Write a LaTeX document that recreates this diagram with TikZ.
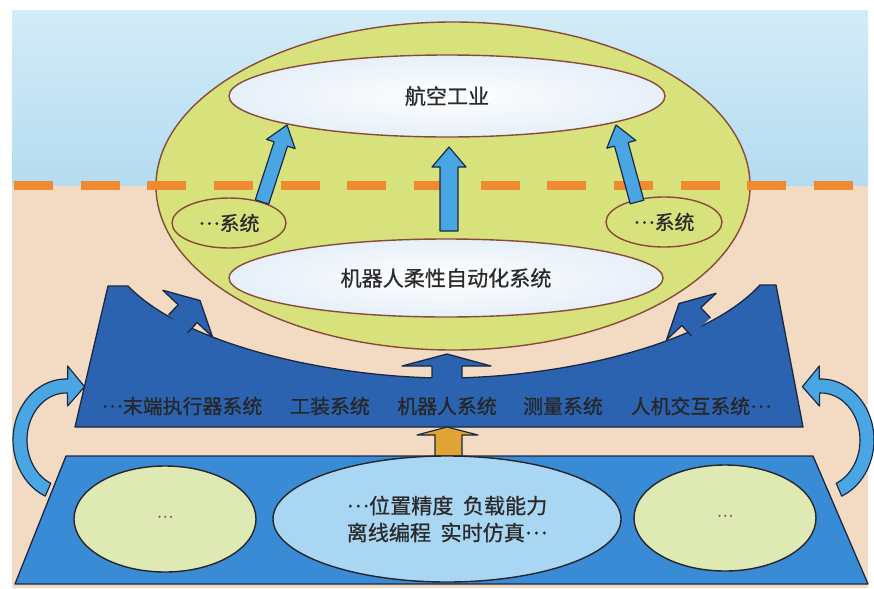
\documentclass[tikz,border=0pt]{standalone}
\usepackage{fontspec}
\newfontfamily\cjk[FakeBold=0.7]{Noto Sans CJK SC}
\usetikzlibrary{calc,shapes.geometric}
\definecolor{sky}{HTML}{B4DBF1}
\definecolor{skytop}{HTML}{D3ECF7}
\definecolor{sand}{HTML}{F2DAC3}
\definecolor{lime}{HTML}{D7E27C}
\definecolor{rim}{HTML}{8A4A3A}
\definecolor{navy}{HTML}{2B63B0}
\definecolor{midblue}{HTML}{3A8BD6}
\definecolor{paleblue}{HTML}{A9D6F2}
\definecolor{palegreen}{HTML}{DEE9B4}
\definecolor{arrowblue}{HTML}{4AA5E3}
\definecolor{dashorange}{HTML}{F08A30}
\definecolor{gold}{HTML}{E0A435}
\definecolor{ink}{HTML}{2A2A2A}
\definecolor{edge}{HTML}{1B2740}
\definecolor{whiteedge}{HTML}{E6EFF8}
\newcommand\middots{\raisebox{0.3em}{…}}
\begin{document}
\begin{tikzpicture}[x=0.03cm,y=-0.03cm,
  ell/.style={ellipse, draw=rim, line width=1.2pt, inner sep=0pt},
  whiteell/.style={ell, inner color=white, outer color=whiteedge},
  big/.style={font=\cjk\fontsize{18}{22}\selectfont, text=ink},
  mid/.style={font=\cjk\fontsize{17}{20}\selectfont, text=ink},
  plat/.style={font=\cjk\fontsize{17}{20}\selectfont, text=black!85, inner sep=0pt},
  darkline/.style={draw=edge, line width=1.1pt, line join=round},
  botell/.style={ellipse, draw=black!85, line width=1.2pt, inner sep=0pt},
  barrow/.style={fill=arrowblue, draw=edge, line width=1pt, line join=round},
  dashline/.style={draw=dashorange, line width=0.27cm, dash pattern=on 1.17cm off 0.83cm}]
\useasboundingbox (0,0) rectangle (874,588);
% background
\shade[top color=skytop, bottom color=sky] (12,10) rectangle (868,186);
\fill[sand] (12,186) rectangle (868,588);

% big green ellipse
\node[ell, fill=lime, minimum width=17.82cm, minimum height=9.84cm] (globe) at (453,186) {};
% dashed boundary
\coordinate (dl) at (14,185);
\coordinate (dr) at (853,185);
\draw[dashline] (dl) -- (dr);

% inner ellipses
\node[whiteell, minimum width=13.08cm, minimum height=2.46cm, big] (aero) at (447,96) {航空工业};
\node[whiteell, minimum width=13.02cm, minimum height=2.34cm, big] (robot) at (446,278) {机器人柔性自动化系统};
\node[ell, minimum width=3.42cm, minimum height=1.5cm, mid] (subL) at (229,223) {\middots 系统};
\node[ell, minimum width=3.48cm, minimum height=1.5cm, mid] (subR) at (664,222) {\middots 系统};

% light blue arrows
\filldraw[barrow] (255.3,199.8) -- (274.1,141.8) -- (266.5,139.4) -- (287,125) -- (295.1,148.6) -- (287.5,146.2) -- (268.7,204.2) -- cycle;
\filldraw[barrow] (440,231) -- (440,167) -- (432,167) -- (449,147) -- (466,167) -- (458,167) -- (458,231) -- cycle;
\filldraw[barrow] (630.2,203.8) -- (614.5,146.1) -- (606.8,148.2) -- (616,125) -- (635.8,140.4) -- (628.1,142.5) -- (643.8,200.2) -- cycle;

% middle platform
\draw[darkline, fill=navy] (75,427) -- (108,286) -- (128,286)
  .. controls (188,348) and (340,378) .. (446,378)
  .. controls (552,378) and (702,348) .. (760,285)
  -- (776,285) -- (803,427) -- cycle;

% small dark arrows on the platform
\fill[navy] (168.6,314.9) -- (178.2,304.7) -- (162.9,290.3) -- (200.0,300.5) -- (212.5,336.9) -- (197.2,322.5) -- (187.6,332.7) -- cycle;
\draw[darkline] (168.6,314.9) -- (178.2,304.7) -- (162.9,290.3) -- (200.0,300.5) -- (212.5,336.9) -- (197.2,322.5) -- (187.6,332.7);
\fill[navy] (691.4,335.7) -- (681.8,325.5) -- (666.5,339.9) -- (679.0,303.5) -- (716.1,293.3) -- (700.8,307.7) -- (710.4,317.9) -- cycle;
\draw[darkline] (691.4,335.7) -- (681.8,325.5) -- (666.5,339.9) -- (679.0,303.5) -- (716.1,293.3) -- (700.8,307.7) -- (710.4,317.9);
% middle arrow
\fill[navy] (432,380) -- (432,366) -- (402,366) -- (447,354) -- (491,366) -- (462,366) -- (462,380) -- cycle;
\draw[darkline] (432,378) -- (432,366) -- (402,366) -- (447,354) -- (491,366) -- (462,366) -- (462,378);

% platform labels
\node[plat] (p1) at (182,406) {\middots 末端执行器系统};
\node[plat] (p2) at (330,406) {工装系统};
\node[plat] (p3) at (447,406) {机器人系统};
\node[plat] (p4) at (563,406) {测量系统};
\node[plat] (p5) at (701,406) {人机交互系统\middots};

% bottom platform
\draw[darkline, fill=midblue] (15,584) -- (66,456) -- (813,456) -- (868,584) -- cycle;

% orange arrow
\filldraw[fill=gold, draw=edge, line width=1pt, line join=round] (435,456) -- (435,435) -- (417,435) -- (447,427) -- (478,435) -- (462,435) -- (462,456) -- cycle;

% bottom ellipses
\node[botell, fill=palegreen, minimum width=5.46cm, minimum height=3.18cm, font=\cjk\fontsize{13}{13}\selectfont, text=black!60] (dotsL) at (165,519) {\middots};
\node[botell, fill=paleblue, minimum width=10.44cm, minimum height=3.78cm, big, align=center] (core) at (447,519)
  {\middots 位置精度\hspace{0.45em}负载能力\\[1pt]离线编程\hspace{0.45em}实时仿真\middots};
\node[botell, fill=palegreen, minimum width=5.46cm, minimum height=3.18cm, font=\cjk\fontsize{13}{13}\selectfont, text=black!60] (dotsR) at (725,518) {\middots};

% curved side arrows
\filldraw[barrow] ($(66,440)+(113:53 and 61)$) arc[start angle=113, end angle=272, x radius=53, y radius=61]
  -- (67.6,366) -- (84.6,386.7) -- (67.6,406)
  -- ($(66,440)+(272:39 and 47)$) arc[start angle=272, end angle=113, x radius=39, y radius=47] -- cycle;
\filldraw[barrow] ($(821,440)+(67:53 and 61)$) arc[start angle=67, end angle=-92, x radius=53, y radius=61]
  -- (819.4,366) -- (802.4,386.7) -- (819.4,406)
  -- ($(821,440)+(-92:39 and 47)$) arc[start angle=-92, end angle=67, x radius=39, y radius=47] -- cycle;
\end{tikzpicture}
\end{document}
